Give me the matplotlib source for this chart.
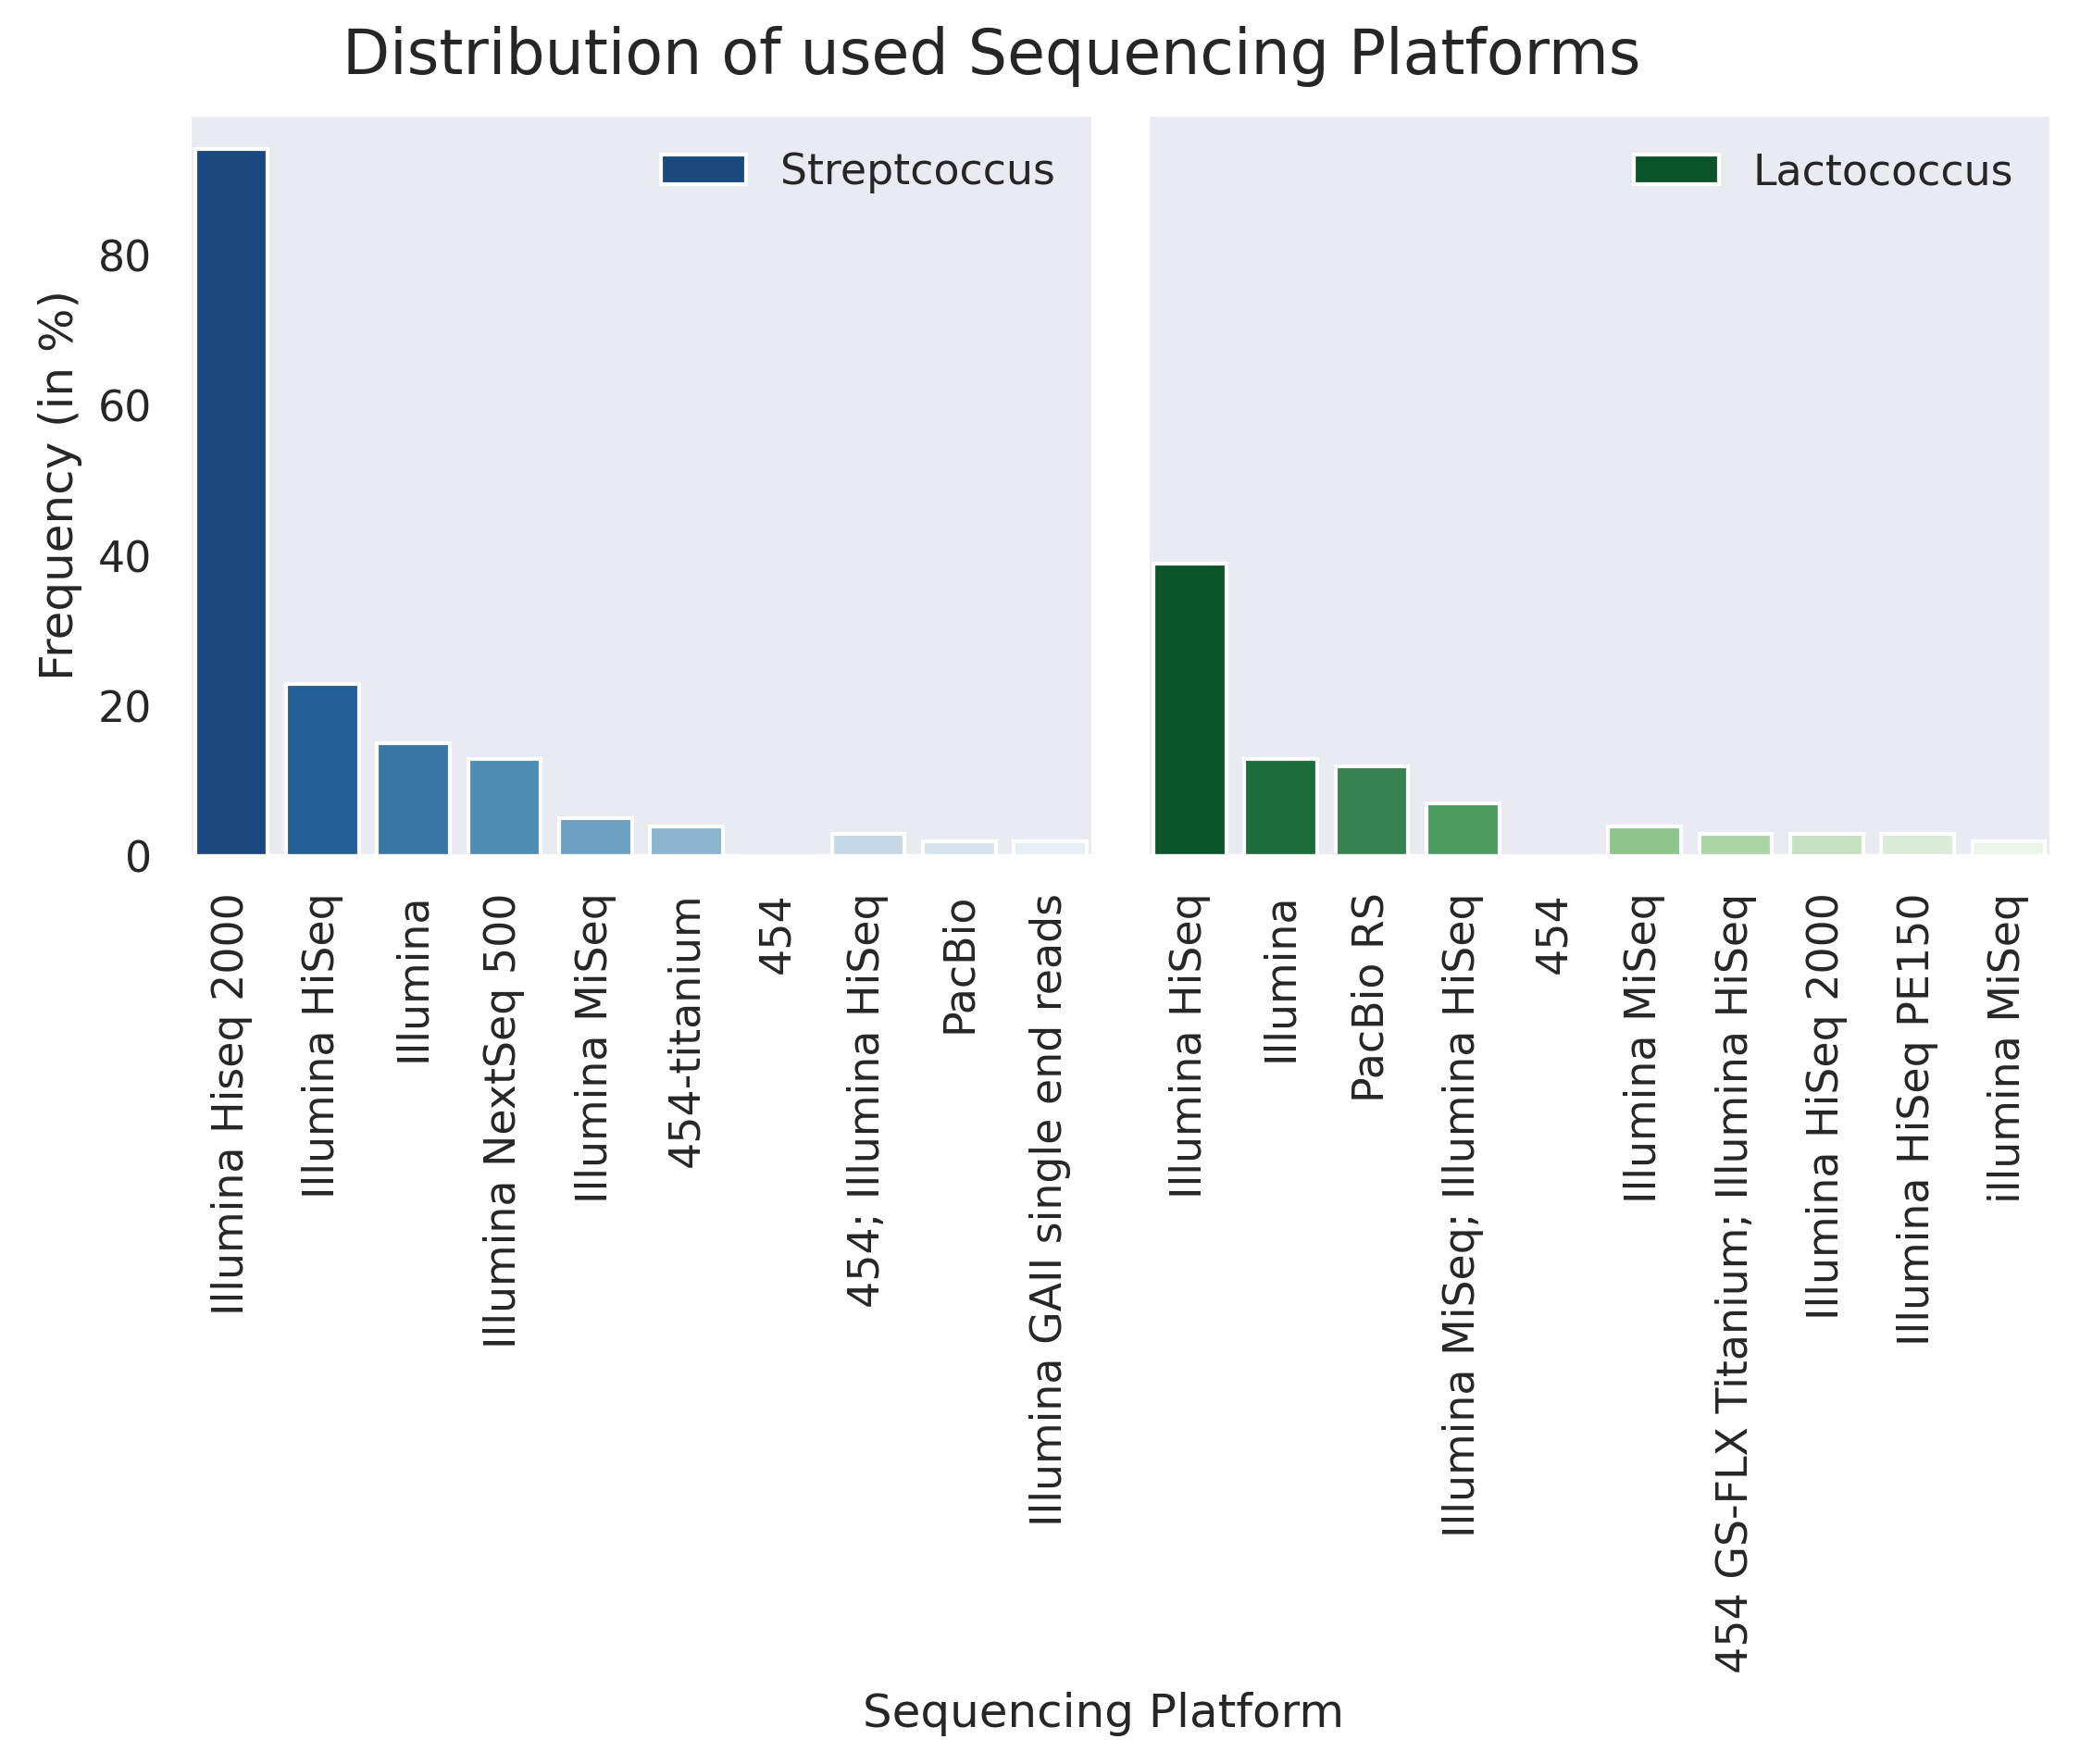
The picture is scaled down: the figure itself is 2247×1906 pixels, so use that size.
import matplotlib
matplotlib.use("Agg")
import matplotlib.pyplot as plt
import seaborn as sns

strep_platforms = ["Illumina Hiseq 2000", "Illumina HiSeq", "Illumina", "Illumina NextSeq 500",
                   "Illumina MiSeq", "454-titanium", "454", "454; Illumina HiSeq", "PacBio",
                   "Illumina GAII single end reads"]
strep_values = [94.2, 23.0, 15.0, 13.0, 5.0, 4.0, 0.0, 3.0, 2.0, 2.0]

lacto_platforms = ["Illumina HiSeq", "Illumina", "PacBio RS", "Illumina MiSeq; Illumina HiSeq",
                   "454", "Illumina MiSeq", "454 GS-FLX Titanium; Illumina HiSeq",
                   "Illumina HiSeq 2000", "Illumina HiSeq PE150", "illumina MiSeq"]
lacto_values = [39.0, 13.0, 12.0, 7.0, 0.0, 4.0, 3.0, 3.0, 3.0, 2.0]

sns.set_theme(style="dark", context="notebook")

fig, (ax1, ax2) = plt.subplots(1, 2, sharey=True, figsize=(2247/300, 1906/300), dpi=300)
fig.subplots_adjust(left=204/2247, right=2216/2247, top=1-123/1906, bottom=1-925/1906, wspace=0.06)

def draw(ax, names, vals, cmap, label):
    cols = [sns.desaturate(c, 0.75) for c in sns.color_palette(cmap, len(vals))]
    x = list(range(len(vals)))
    ax.bar(x, vals, width=0.8, color=cols, edgecolor="white", linewidth=1.0, label=label)
    ax.set_xticks(x)
    ax.set_xticklabels(names, rotation=90)
    ax.set_xlim(-0.47, len(vals) - 0.53)
    handles = [plt.Rectangle((0, 0), 1, 1, facecolor=cols[0], edgecolor="white", linewidth=1.0)]
    ax.legend(handles, [label], loc="upper right", frameon=False)

draw(ax1, strep_platforms, strep_values, "Blues_r", "Streptcoccus")
draw(ax2, lacto_platforms, lacto_values, "Greens_r", "Lactococcus")

ax1.set_ylabel("Frequency (in %)")
ax1.set_yticks([0, 20, 40, 60, 80])

fig.text(1071/2247, 1-80/1906, "Distribution of used Sequencing Platforms", ha="center",
         va="baseline", fontsize=16)
fig.text(1192/2247, 1-1866/1906, "Sequencing Platform", ha="center", va="baseline", fontsize=12)

fig.savefig("out.png", dpi=300)
